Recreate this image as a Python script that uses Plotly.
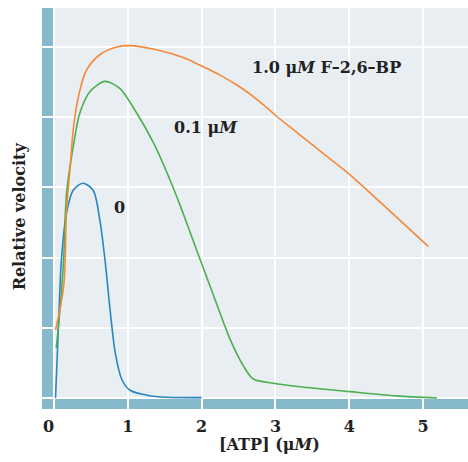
import plotly.graph_objects as go

# ATP concentration (uM) and relative velocity for each F-2,6-BP level
x_0 = [0.02, 0.06, 0.10, 0.17, 0.26, 0.39, 0.53, 0.62, 0.69, 0.76, 0.83, 0.92, 1.03, 1.26, 1.53, 2.0]
y_0 = [0.0, 1.02, 1.97, 2.64, 2.96, 3.06, 2.96, 2.54, 1.97, 1.25, 0.64, 0.26, 0.11, 0.04, 0.01, 0.005]

x_01 = [0.03, 0.08, 0.13, 0.17, 0.26, 0.35, 0.49, 0.69, 0.89, 1.12, 1.35, 1.57, 1.71, 1.84, 2.02,
        2.20, 2.38, 2.57, 2.70, 2.97, 3.33, 4.01, 4.64, 5.19]
y_01 = [0.71, 1.25, 1.97, 2.92, 3.58, 4.06, 4.37, 4.51, 4.41, 4.06, 3.63, 3.11, 2.74, 2.37, 1.86,
        1.35, 0.85, 0.45, 0.27, 0.21, 0.16, 0.09, 0.03, 0.0]

x_10 = [0.02, 0.13, 0.17, 0.22, 0.26, 0.33, 0.44, 0.62, 0.85, 1.03, 1.39, 1.75, 1.98, 2.25, 2.52,
        2.79, 3.02, 3.33, 3.70, 4.01, 4.46, 5.07]
y_10 = [0.97, 1.59, 2.68, 3.30, 3.82, 4.29, 4.67, 4.89, 5.00, 5.02, 4.96, 4.85, 4.74, 4.60, 4.43,
        4.22, 4.01, 3.75, 3.44, 3.18, 2.75, 2.16]

tick_vals = [0, 1, 2, 3, 4, 5]
tick_text = ["0\u00a0\u00a0", "1", "2", "3", "4", "5"]

FONT = "DejaVu Serif"
BAR = "#87b9cc"

fig = go.Figure()
fig.add_trace(go.Scatter(x=x_0, y=y_0, mode="lines", line=dict(color="#2a86c3", width=1.6, shape="spline", smoothing=0.8)))
fig.add_trace(go.Scatter(x=x_01, y=y_01, mode="lines", line=dict(color="#4caf4f", width=1.6, shape="spline", smoothing=0.8)))
fig.add_trace(go.Scatter(x=x_10, y=y_10, mode="lines", line=dict(color="#f5893a", width=1.6, shape="spline", smoothing=1.0)))

fig.add_shape(type="rect", xref="x", yref="paper", x0=-0.3, x1=-0.015, y0=0, y1=1,
              fillcolor=BAR, line_width=0, layer="below")
fig.add_shape(type="rect", xref="paper", yref="y", x0=0, x1=1, y0=-0.3, y1=-0.005,
              fillcolor=BAR, line_width=0, layer="below")

lab = dict(family=FONT, size=16, color="#222222")
fig.add_annotation(x=3.69, y=4.715, text="<b>1.0 μ<i>M</i> F–2,6–BP</b>", showarrow=False, font=lab)
fig.add_annotation(x=2.06, y=3.86, text="<b>0.1 μ<i>M</i></b>", showarrow=False, font=lab)
fig.add_annotation(x=0.89, y=2.71, text="<b>0</b>", showarrow=False, font=lab)

fig.add_annotation(xref="paper", yref="paper", x=0.535, y=-0.088, yanchor="middle",
                   text="<b>[ATP] (μ<i>M</i>)</b>", showarrow=False, font=lab)
fig.add_annotation(xref="paper", yref="paper", x=-0.052, y=0.48, xanchor="center", yanchor="middle",
                   textangle=-90, text="<b>Relative velocity</b>", showarrow=False, font=lab)

fig.update_layout(
    width=468, height=462,
    margin=dict(l=42, r=0, t=8, b=53, autoexpand=False),
    plot_bgcolor="#e9eef3", paper_bgcolor="white",
    showlegend=False,
    xaxis=dict(range=[-0.163, 5.609], tickvals=tick_vals, ticktext=tick_text,
               showgrid=True, gridcolor="white", gridwidth=1.5, zeroline=False,
               showline=False, ticks="", ticklabelstandoff=6,
               tickfont=dict(family=FONT, size=16, color="#222222", weight="bold")),
    yaxis=dict(range=[-0.157, 5.556], tickvals=tick_vals, showticklabels=False,
               showgrid=True, gridcolor="white", gridwidth=1.5, zeroline=False,
               showline=False, ticks=""),
)

fig.write_html("out.html", config={"displayModeBar": False},
               post_script="document.body.style.margin='0';document.body.style.overflow='hidden';")
